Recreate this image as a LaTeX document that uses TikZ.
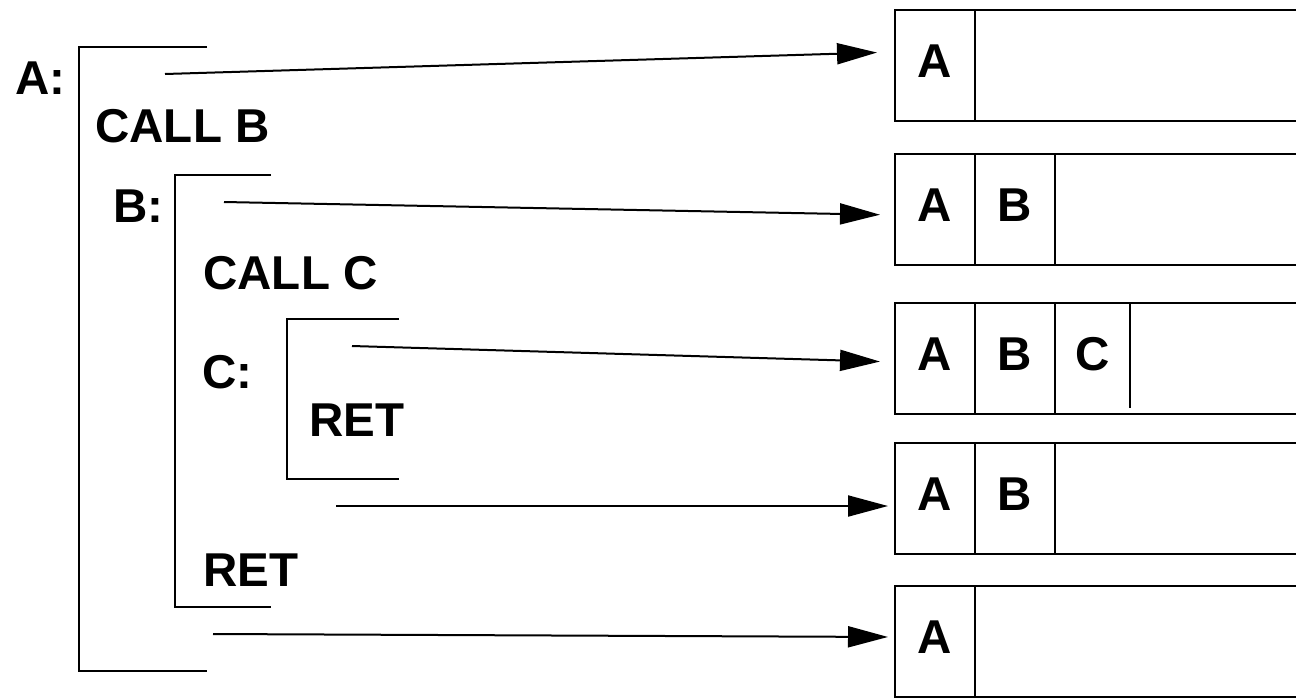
\documentclass[tikz,border=0pt]{standalone}
\usepackage{fontspec}
\setmainfont{Liberation Sans}
\usetikzlibrary{arrows.meta,positioning}

\tikzset{
  bigbf/.style={font=\fontsize{23.75}{28}\selectfont\bfseries},
  lbl/.style={bigbf, anchor=base west, inner sep=0pt},
  frame/.style={draw, line width=1.1pt, anchor=north west, outer sep=0pt, inner sep=0pt,
    minimum width=220pt, minimum height=55.5pt},
  cell/.style={bigbf, draw, line width=1.1pt, anchor=north west, outer sep=0pt, inner sep=0pt,
    minimum width=40pt, minimum height=55.5pt, text height=17pt, text depth=5pt},
  bracket/.style={line width=1.1pt},
  callarrow/.style={line width=1pt, -{Triangle[length=20pt,width=10.5pt]}}
}

\begin{document}
\begin{tikzpicture}[x=0.5pt,y=-0.5pt]
    \useasboundingbox (0,0) rectangle (1296,697);
    \clip (0,0) rectangle (1296,697);

    % code side
    \draw[bracket] (207,47) -- (79,47) -- (79,671) -- (207,671);
    \draw[bracket] (271,175) -- (175,175) -- (175,607) -- (271,607);
    \draw[bracket] (399,319) -- (287,319) -- (287,479) -- (399,479);
    \node[lbl] (labA) at (15,94) {A:};
    \node[lbl] (callB) at (95,142) {CALL B};
    \node[lbl] (labB) at (113,222) {B:};
    \node[lbl] (callC) at (203,289) {CALL C};
    \node[lbl] (labC) at (202,388) {C:};
    \node[lbl] (retC) at (309,436) {RET};
    \node[lbl] (retB) at (203,586) {RET};

    % stack frames
    \node[frame] (f1) at (895,10) {};
    \node[cell] (f1a) at (f1.north west) {A};

    \node[frame] (f2) at (895,154) {};
    \node[cell] (f2a) at (f2.north west) {A};
    \node[cell, right=0pt of f2a] (f2b) {B};

    \node[frame] (f3) at (895,303) {};
    \node[cell] (f3a) at (f3.north west) {A};
    \node[cell, right=0pt of f3a] (f3b) {B};
    \node[cell, draw=none, minimum width=37.5pt, right=0pt of f3b] (f3c) {C};
    \draw[line width=1.1pt] (f3c.north east) -- ([yshift=3pt]f3c.south east);

    \node[frame] (f4) at (895,443) {};
    \node[cell] (f4a) at (f4.north west) {A};
    \node[cell, right=0pt of f4a] (f4b) {B};

    \node[frame] (f5) at (895,586) {};
    \node[cell] (f5a) at (f5.north west) {A};

    % arrows
    \coordinate (inA) at (165,74);
    \coordinate (inB) at (224,202);
    \coordinate (inC) at (352,346);
    \coordinate (outC) at (336,506);
    \coordinate (outB) at (213,634);
    \draw[callarrow, shorten >=9pt] (inA) -- ([yshift=6.75pt]f1.west);
    \draw[callarrow, shorten >=7.5pt] (inB) -- ([yshift=-2.75pt]f2.west);
    \draw[callarrow, shorten >=7.5pt] (inC) -- ([yshift=-1.75pt]f3.west);
    \draw[callarrow, shorten >=3.5pt] (outC) -- ([yshift=-3.75pt]f4.west);
    \draw[callarrow, shorten >=3.5pt] (outB) -- ([yshift=2.25pt]f5.west);
\end{tikzpicture}
\end{document}
